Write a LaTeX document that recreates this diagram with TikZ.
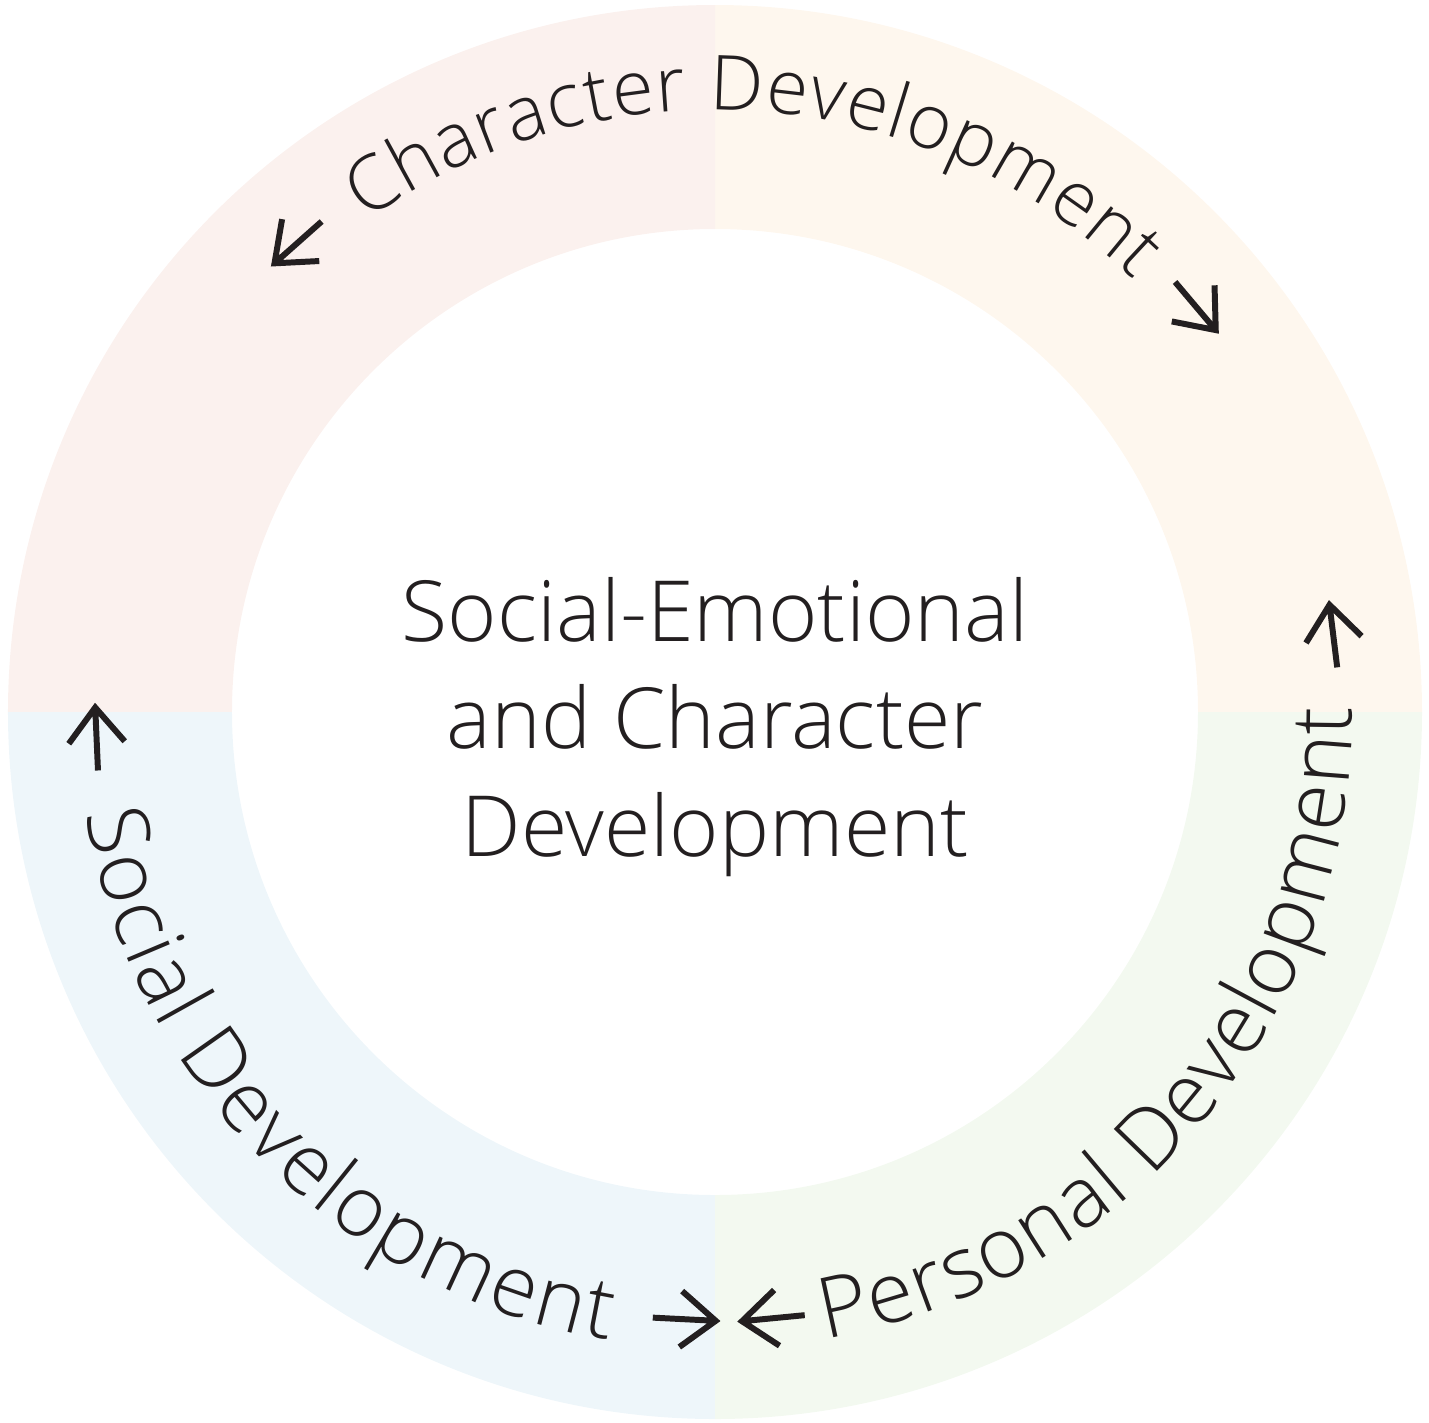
\documentclass[tikz,border=0pt]{standalone}
\usepackage{fontspec}
\setmainfont{Open Sans Light}
\usepackage{tikz}
\usetikzlibrary{decorations.text}

\definecolor{inkgrey}{HTML}{231F20}
\definecolor{pinkq}{HTML}{FBF1EE}
\definecolor{orangeq}{HTML}{FEF7EE}
\definecolor{greenq}{HTML}{F3F9F0}
\definecolor{blueq}{HTML}{EEF6FA}

\begin{document}
\begin{tikzpicture}[
	ringarrow/.style={draw=inkgrey, line width=1.7pt},
	ringtext/.style 2 args={decorate, decoration={text along path, text align={fit to path},
		text color=inkgrey, text={|\fontsize{#1}{28}\selectfont|#2}}}
	]
	\useasboundingbox (-7.15,-7.10) rectangle (7.14,7.12);

	% quadrants of the ring
	\foreach \a/\c in {0/orangeq, 90/pinkq, 180/blueq, 270/greenq}
	{
	\fill[\c] (\a:7.07) arc (\a:\a+90:7.07) -- (\a+90:4.83) arc (\a+90:\a:4.83) -- cycle;
	}

	\node [text=inkgrey, align=center, font=\fontsize{24}{30.7}\selectfont] (centre) at (0,-0.15)
	{Social-Emotional\\and Character\\Development};

	% texts round the ring
	\path [ringtext={21.6}{Character Development}] (125.4:6.02) arc (125.4:45.9:6.02);
	\path [ringtext={24}{Personal Development}] (-80:6.37) arc (-80:0.4:6.37);
	\path [ringtext={24}{Social Development}] (189.2:6.37) arc (189.2:260.4:6.37);

	% arrows at the ends of each text
	\foreach \ang/\rad/\pt in {131.6/6.28/221.6, 40.2/6.29/-49.8, 7.0/6.23/97,
		-84.5/6.09/185.5, 267.1/6.08/357.1, 182.5/6.19/92.5}
	{
	\draw[ringarrow, shift={(\ang:\rad)}, rotate=\pt]
		(-0.315,0) -- (0.315,0) (-0.035,0.28) -- (0.315,0) -- (-0.035,-0.28);
	}

\end{tikzpicture}
\end{document}
